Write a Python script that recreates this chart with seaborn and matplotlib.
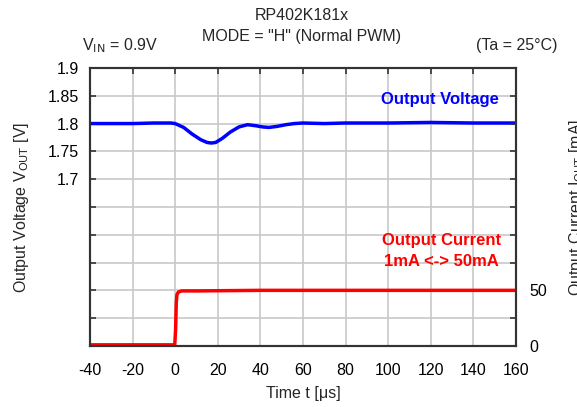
import numpy as np
import pandas as pd
import matplotlib.pyplot as plt
import seaborn as sns
from matplotlib.ticker import FixedLocator, FixedFormatter

# Data
volt_t = [-40, -30, -20, -10, -2, 0, 4, 8, 12, 15, 17, 19, 22, 26, 30, 34, 38, 41, 44, 48, 52, 56, 60, 70, 80, 100, 120, 140, 160]
volt_v = [1.800, 1.800, 1.800, 1.801, 1.801, 1.800, 1.793, 1.781, 1.771, 1.766, 1.765, 1.766, 1.773, 1.785, 1.794, 1.798, 1.796, 1.794, 1.793, 1.795, 1.798, 1.800, 1.801, 1.800, 1.801, 1.801, 1.802, 1.801, 1.801]

curr_t = [-40, -20, -0.2, 0.2, 0.5, 0.8, 1.5, 3, 10, 40, 80, 120, 160]
curr_i = [1, 1, 1, 15, 38, 46, 48.5, 49.5, 49.5, 50, 50, 50, 50]

x_ticks = [-40, -20, 0, 20, 40, 60, 80, 100, 120, 140, 160]
v_ticks = [1.45, 1.5, 1.55, 1.6, 1.65, 1.7, 1.75, 1.8, 1.85, 1.9]
v_labels = ["", "", "", "", "", "1.7", "1.75", "1.8", "1.85", "1.9"]
i_ticks = [0, 25, 50, 75, 100, 125, 150, 175, 200, 225, 250]
i_labels = ["0", "", "50", "", "", "", "", "", "", "", ""]

volt_df = pd.DataFrame({"t": volt_t, "v": volt_v})
curr_df = pd.DataFrame({"t": curr_t, "i": curr_i})

sns.set_style("white")
plt.rcParams["font.family"] = ["Liberation Sans", "DejaVu Sans"]
plt.rcParams["axes.unicode_minus"] = False

fig = plt.figure(figsize=(5.77, 4.07), dpi=100)
ax = fig.add_axes([0.156, 0.150, 0.738, 0.683])
ax2 = ax.twinx()

sns.lineplot(data=volt_df, x="t", y="v", ax=ax, color="#0000ff", linewidth=2.5)
sns.lineplot(data=curr_df, x="t", y="i", ax=ax2, color="#ff0000", linewidth=2.5)

ax.set_xlim(-40, 160)
ax.set_ylim(1.4, 1.9)
ax2.set_ylim(0, 250)

ax.xaxis.set_major_locator(FixedLocator(x_ticks))
ax.yaxis.set_major_locator(FixedLocator(v_ticks))
ax.yaxis.set_major_formatter(FixedFormatter(v_labels))
ax2.yaxis.set_major_locator(FixedLocator(i_ticks))
ax2.yaxis.set_major_formatter(FixedFormatter(i_labels))

ax.grid(True, color="#c8c8c8", linewidth=1.2)
ax.set_axisbelow(True)
ax2.grid(False)

ax.tick_params(axis="both", direction="in", length=4, width=1.2, labelsize=11.5, colors="#333333", labelcolor="black", top=True, pad=8)
ax.tick_params(axis="x", pad=12)
ax2.tick_params(axis="y", direction="in", length=4, width=1.2, labelsize=11.5, colors="#333333", labelcolor="black", pad=10)

for a in (ax, ax2):
    for s in a.spines.values():
        s.set_color("#333333")
        s.set_linewidth(1.5)

ax.set_xlabel("Time t [μs]", fontsize=11.5, labelpad=6)
ax.set_ylabel("Output Voltage V$_{\\mathrm{OUT}}$ [V]", fontsize=11.5, labelpad=12)
ax2.set_ylabel("Output Current I$_{\\mathrm{OUT}}$ [mA]", fontsize=11.5, labelpad=14)

fig.text(0.523, 0.963, "RP402K181x", ha="center", va="center", fontsize=11.5)
fig.text(0.523, 0.910, 'MODE = "H" (Normal PWM)', ha="center", va="center", fontsize=11.5)
fig.text(0.142, 0.888, "V$_{\\mathrm{IN}}$ = 0.9V", ha="left", va="center", fontsize=11.5)
fig.text(0.966, 0.888, "(Ta = 25°C)", ha="right", va="center", fontsize=11.5)

ax2.text(0.960, 0.888, "Output Voltage", transform=ax.transAxes, ha="right", va="center",
         color="#0000ff", fontsize=12, fontweight="bold")
ax2.text(0.825, 0.381, "Output Current", transform=ax.transAxes, ha="center", va="center",
         color="#ff0000", fontsize=12, fontweight="bold")
ax2.text(0.825, 0.302, "1mA <-> 50mA", transform=ax.transAxes, ha="center", va="center",
         color="#ff0000", fontsize=12, fontweight="bold")

fig.savefig("out.png", dpi=100)
